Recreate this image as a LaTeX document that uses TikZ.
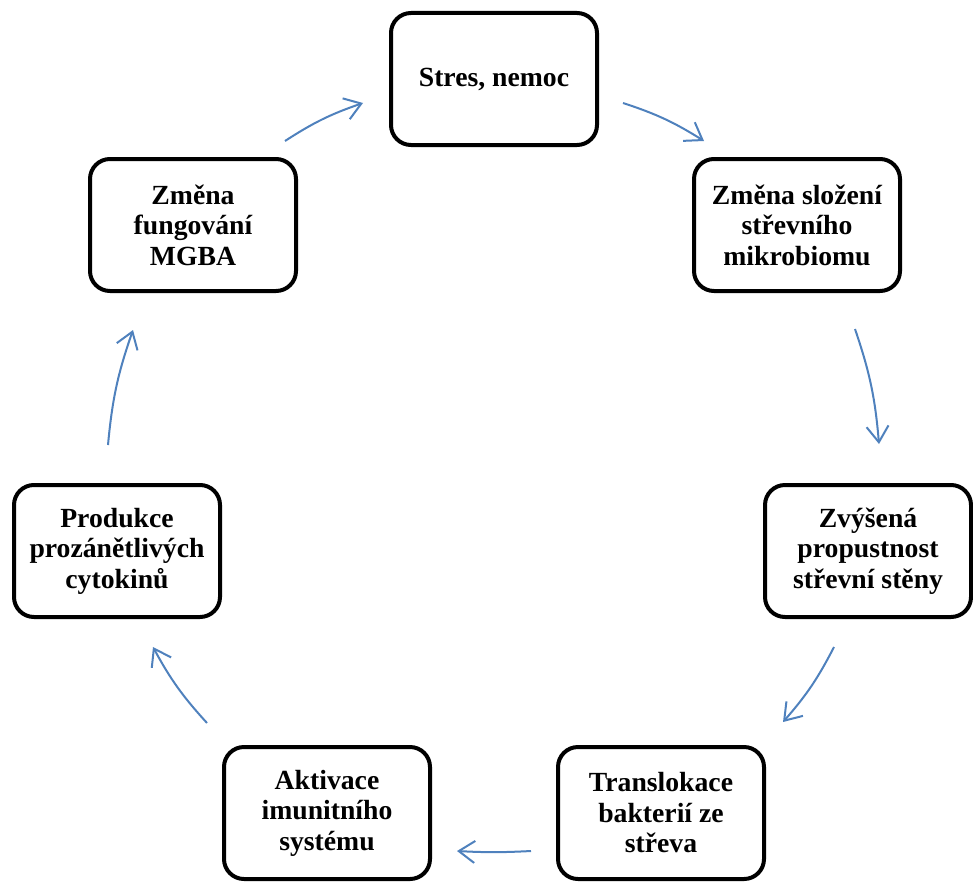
\documentclass[tikz,border=0pt]{standalone}
\usepackage{fontspec}
\setmainfont{Liberation Serif}
\usetikzlibrary{arrows.meta}
\definecolor{arrowblue}{RGB}{79,129,189}
\tikzset{
  box/.style={draw=black, line width=4pt, rounded corners=20pt, fill=white,
    minimum width=206pt, minimum height=132pt, align=center, inner sep=0pt,
    font=\fontsize{27.7pt}{30.5pt}\selectfont\bfseries},
  cyc/.style={draw=arrowblue, line width=2pt, bend left=7,
    -{Straight Barb[length=16pt,width=22pt,line width=2pt]}}
}
\begin{document}
\begin{tikzpicture}[x=1pt,y=-1pt]
\useasboundingbox (0,0) rectangle (973,883);
\node[box] (b1) at (494,79) {Stres, nemoc};
\node[box] (b2) at (797,225) {Změna složení\\střevního\\mikrobiomu};
\node[box] (b3) at (868,551) {Zvýšená\\propustnost\\střevní stěny};
\node[box] (b4) at (661,813) {Translokace\\bakterií ze\\střeva};
\node[box] (b5) at (327,813) {Aktivace\\imunitního\\systému};
\node[box] (b6) at (117,551) {Produkce\\prozánětlivých\\cytokinů};
\node[box] (b7) at (193,225) {Změna\\fungování\\MGBA};
\draw[cyc] ([shift={(-13,-16)}]b7.north east) to ([shift={(-26,24)}]b1.west);
\draw[cyc] ([shift={(24,24)}]b1.east) to ([shift={(12,-16)}]b2.north west);
\draw[cyc] ([shift={(58,36)}]b2.south) to ([shift={(11,-39)}]b3.north);
\draw[cyc] ([shift={(-34,28)}]b3.south) to ([shift={(17,-23)}]b4.north east);
\draw[cyc, bend left=3] ([shift={(-25,38)}]b4.west) to ([shift={(25,38)}]b5.east);
\draw[cyc] ([shift={(-15,-22)}]b5.north west) to ([shift={(36,28)}]b6.south);
\draw[cyc] ([shift={(-9,-38)}]b6.north) to ([shift={(-60,37)}]b7.south);
\end{tikzpicture}
\end{document}
